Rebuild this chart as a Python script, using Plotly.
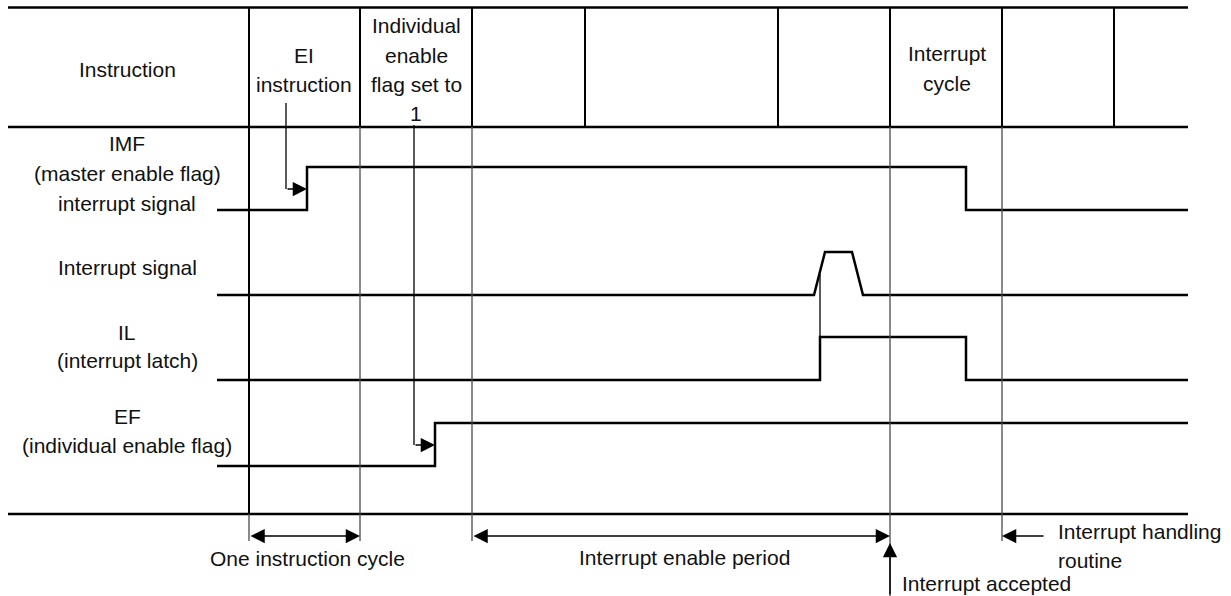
import plotly.graph_objects as go

# ---------------- data ----------------
header_bounds = [249, 360, 472, 585, 778, 890, 1002, 1114]
body_thin_bounds = [360, 472, 890, 1002]

# signal waveforms: transition times and logic levels
imf_t = [217, 307, 307, 966, 966, 1188]
imf_lvl = [0, 0, 1, 1, 0, 0]
int_t = [217, 814, 825, 852, 863, 1188]
int_lvl = [0, 0, 1, 1, 0, 0]
il_t = [217, 820, 820, 966, 966, 1188]
il_lvl = [0, 0, 1, 1, 0, 0]
ef_t = [217, 435, 435, 1188]
ef_lvl = [0, 0, 1, 1]
row_base = [210, 295, 380, 466]
row_amp = 43

header_texts = [
    (["Instruction"], 127, [69]),
    (["EI", "instruction"], 304, [55, 84]),
    (["Individual", "enable", "flag set to", "1"], 416, [25, 55, 84, 113]),
    (["Interrupt", "cycle"], 947, [53, 83]),
]
row_labels = [
    (["IMF", "(master enable flag)", "interrupt signal"], [143, 173, 203]),
    (["Interrupt signal"], [267]),
    (["IL", "(interrupt latch)"], [332, 360]),
    (["EF", "(individual enable flag)"], [416, 445]),
]

FONT = dict(family="Liberation Sans, Arial, sans-serif", size=21, color="#111")

fig = go.Figure()

# waveforms
for t, lvl, base in zip([imf_t, int_t, il_t, ef_t], [imf_lvl, int_lvl, il_lvl, ef_lvl], row_base):
    fig.add_trace(go.Scatter(x=t, y=[base - row_amp * v for v in lvl], mode="lines",
                             line=dict(color="black", width=2.5), hoverinfo="skip"))

shapes = []
def hline(y, x0, x1, w=2.5, c="black"):
    shapes.append(dict(type="line", x0=x0, x1=x1, y0=y, y1=y, line=dict(color=c, width=w)))
def vline(x, y0, y1, w=1.3, c="#4a4a4a"):
    shapes.append(dict(type="line", x0=x, x1=x, y0=y0, y1=y1, line=dict(color=c, width=w)))

HEAD_TOP, HEAD_BOT, BODY_BOT = 7.5, 127, 514
hline(HEAD_TOP, 8, 1188)
hline(HEAD_BOT, 8, 1188)
hline(BODY_BOT, 8, 1188)
for x in header_bounds:
    vline(x, HEAD_TOP, HEAD_BOT, w=2, c="black")
vline(249, HEAD_BOT, BODY_BOT, w=2, c="black")
vline(249, BODY_BOT, 541)
for x in body_thin_bounds:
    vline(x, HEAD_BOT, 541)
vline(890, 541, 596)

# connector lines
vline(286, 103, 189, w=1.3, c="black")
vline(414, 125, 445, w=1.3, c="black")
vline(820, 274, 338, w=1.3, c="black")

fig.update_layout(shapes=shapes)

ann = []
for lines, x, ys in header_texts:
    for s, y in zip(lines, ys):
        ann.append(dict(x=x, y=y, text=s, showarrow=False, font=FONT, xanchor="center", yanchor="middle"))
for lines, ys in row_labels:
    for s, y in zip(lines, ys):
        ann.append(dict(x=127, y=y, text=s, showarrow=False, font=FONT, xanchor="center", yanchor="middle"))

ann.append(dict(x=307, y=558, text="One instruction cycle", showarrow=False, font=FONT, xanchor="center", yanchor="middle"))
ann.append(dict(x=684, y=557, text="Interrupt enable period", showarrow=False, font=FONT, xanchor="center", yanchor="middle"))
ann.append(dict(x=900, y=583, text="Interrupt accepted", showarrow=False, font=FONT, xanchor="left", yanchor="middle"))
ann.append(dict(x=1056, y=531, text="Interrupt handling", showarrow=False, font=FONT, xanchor="left", yanchor="middle"))
ann.append(dict(x=1056, y=560, text="routine", showarrow=False, font=FONT, xanchor="left", yanchor="middle"))

def arrow(x, y, ax, ay, side="end"):
    ann.append(dict(x=x, y=y, ax=ax, ay=ay, xref="x", yref="y", axref="x", ayref="y",
                    text="", showarrow=True, arrowhead=2, startarrowhead=2, arrowside=side,
                    arrowsize=1.9, startarrowsize=1.9, arrowwidth=1.5, arrowcolor="black",
                    standoff=0, startstandoff=0))

arrow(307, 189, 286, 189)
arrow(435, 445, 414, 445)
arrow(360, 536, 249, 536, side="end+start")
arrow(890, 536, 472, 536, side="end+start")
arrow(1002, 536, 1045, 536)
arrow(890, 543, 890, 596)

fig.update_layout(
    annotations=ann,
    width=1231, height=596,
    margin=dict(l=0, r=0, t=0, b=0),
    paper_bgcolor="white", plot_bgcolor="white",
    showlegend=False,
    xaxis=dict(range=[0, 1231], visible=False, fixedrange=True),
    yaxis=dict(range=[596, 0], visible=False, fixedrange=True),
)

fig.write_html("out.html", config={"displayModeBar": False},
               post_script="document.body.style.margin='0';document.body.style.overflow='hidden';")
